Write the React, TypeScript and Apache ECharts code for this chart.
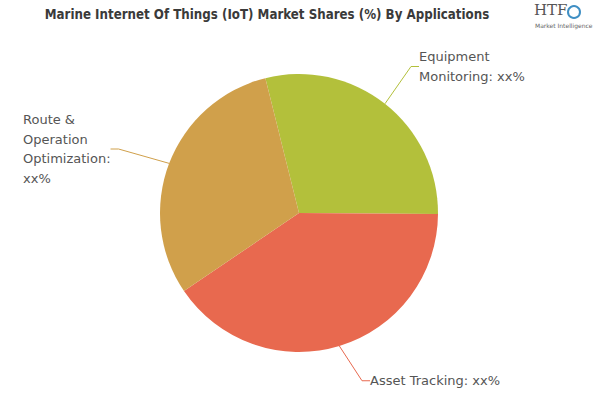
import React, { useEffect, useRef } from "react";
import * as echarts from "echarts";

const categories = [
  "Equipment\nMonitoring: xx%",
  "Asset Tracking: xx%",
  "Route &\nOperation\nOptimization:\nxx%",
];
const values = [29, 40.4, 30.6];
const colors = ["#b3c03b", "#e8694f", "#d0a04b"];
const labelAnchors = [
  [419, 47],
  [370, 371],
  [23, 110],
];

export default function App() {
  const ref = useRef<HTMLDivElement>(null);
  useEffect(() => {
    document.body.style.margin = "0";
    const chart = echarts.init(ref.current!, null, { renderer: "svg" });
    chart.setOption({
      animation: false,
      backgroundColor: "#ffffff",
      title: {
        text: "Marine Internet Of Things (IoT) Market Shares (%) By Applications",
        left: 262,
        textAlign: "center",
        top: 3,
        textStyle: {
          fontFamily: "DejaVu Sans Condensed, sans-serif",
          fontWeight: "bold",
          fontSize: 13.2,
          color: "#3a3a3a",
        },
      },
      graphic: [
        {
          type: "text",
          left: 534,
          top: 2,
          style: { text: "HTF", fontFamily: "DejaVu Serif, serif", fontSize: 15, fill: "#555" },
        },
        {
          type: "circle",
          shape: { cx: 574, cy: 12, r: 6 },
          style: { fill: "none", stroke: "#3f8fc4", lineWidth: 2 },
        },
        {
          type: "text",
          left: 535,
          top: 22,
          style: { text: "Market Intelligence", fontFamily: "DejaVu Sans", fontSize: 6, fill: "#666" },
        },
      ],
      series: [
        {
          type: "pie",
          center: [299, 213],
          radius: 139,
          startAngle: 104,
          clockwise: true,
          data: categories.map((name, i) => ({
            name,
            value: values[i],
            itemStyle: { color: colors[i] },
            labelLine: { lineStyle: { color: colors[i], width: 1 } },
          })),
          label: {
            show: true,
            formatter: "{b}",
            fontFamily: "DejaVu Sans, Verdana, sans-serif",
            fontSize: 13,
            lineHeight: 19.5,
            color: "#555555",
          },
          labelLine: { show: true, length: 20, length2: 8 },
          labelLayout: (params: any) => {
            const a = labelAnchors[params.dataIndex];
            return { x: a[0], y: a[1], align: "left", verticalAlign: "top" };
          },
        },
      ],
    });
    return () => chart.dispose();
  }, []);
  return <div ref={ref} style={{ width: 600, height: 400 }} />;
}
